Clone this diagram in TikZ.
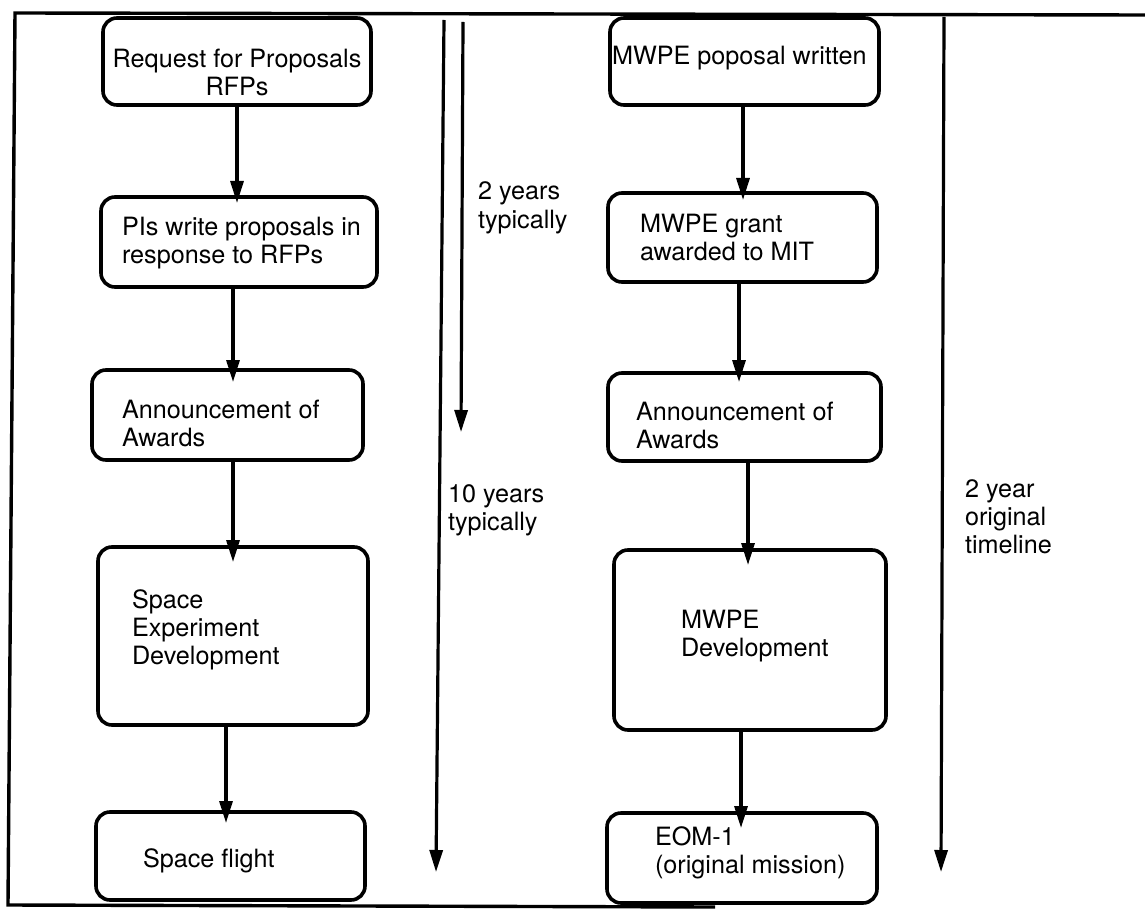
\documentclass[tikz,border=0pt]{standalone}
\usepackage{fontspec}
\setmainfont{TeX Gyre Heros}
\usetikzlibrary{arrows.meta}

% a rounded box given by its corners (x1,y1) and (x2,y2), y measured downwards
\newcommand\flowbox[5]{%
  \node[box, minimum width={(#4-#2)*0.5pt}, minimum height={(#5-#3)*0.5pt}]
    (#1) at ({(#2+#4)/2},{(#3+#5)/2}) {};}
% multi-line labels whose baseline is that of their first line
\newcommand\ltxt[1]{\begin{tabular}[t]{@{}l@{}}#1\end{tabular}}
\newcommand\ctxt[1]{\begin{tabular}[t]{@{}c@{}}#1\end{tabular}}

\begin{document}
\begin{tikzpicture}[x=0.5pt, y=-0.5pt,
  box/.style={draw, line width=1.8pt, rounded corners=7pt, inner sep=0pt, outer sep=0pt},
  lbl/.style={inner sep=0pt, outer sep=0pt, anchor=base west,
              font=\fontsize{12.6pt}{14pt}\selectfont},
  flow/.style={line width=1.6pt, -{Triangle[length=11pt,width=6.5pt]}},
  frame/.style={line width=1.7pt, line join=miter},
  ]
\useasboundingbox (0,0) rectangle (1145,909);

% outer frame (open on the right)
\draw[frame] (1145,15) -- (15,13) -- (8,905) -- (715,907);

% ---- left column: typical space experiment ----
\flowbox{b1}{103}{18}{371}{105}
\flowbox{b2}{101}{197}{377}{287}
\flowbox{b3}{92}{370}{363}{460}
\flowbox{b4}{98}{547}{368}{725}
\flowbox{b5}{96}{812}{365}{900}

\node[lbl, anchor=base] (tb1) at (237,68) {\ctxt{Request for Proposals\\RFPs}};
\node[lbl] (tb2) at (122,235) {\ltxt{PIs write proposals in\\response to RFPs}};
\node[lbl] (tb3) at (122,418) {\ltxt{Announcement of\\Awards}};
\node[lbl] (tb4) at (132,608) {\ltxt{Space\\Experiment\\Development}};
\node[lbl] (tb5) at (143,867) {Space flight};

\coordinate (xa1) at (237,0);
\coordinate (xa2) at (233,0);
\coordinate (xa3) at (233,0);
\coordinate (xa4) at (226,0);
\draw[flow, shorten >=-3pt]   (b1.south -| xa1) -- (b2.north -| xa1);
\draw[flow, shorten >=-6pt]   (b2.south -| xa2) -- (b3.north -| xa2);
\draw[flow, shorten >=-7.5pt] (b3.south -| xa3) -- (b4.north -| xa3);
\draw[flow, shorten >=-5.5pt] (b4.south -| xa4) -- (b5.north -| xa4);

% ---- left timelines ----
\coordinate (l1s) at (444,20);
\coordinate (l1e) at (436,872);
\coordinate (l2s) at (463,22);
\coordinate (l2e) at (461,432);
\draw[flow] (l1s) -- (l1e);
\draw[flow] (l2s) -- (l2e);
\node[lbl] (tl2) at (478,200) {\ltxt{2 years\\typically}};
\node[lbl] (tl1) at (448,502) {\ltxt{10 years\\typically}};

% ---- right column: MWPE ----
\flowbox{r1}{610}{18}{879}{105}
\flowbox{r2}{608}{193}{877}{282}
\flowbox{r3}{608}{373}{881}{461}
\flowbox{r4}{614}{550}{886}{730}
\flowbox{r5}{607}{813}{877}{903}

\node[lbl] (tr1) at (612,65) {MWPE poposal written};
\node[lbl] (tr2) at (640,233) {\ltxt{MWPE grant\\awarded to MIT}};
\node[lbl] (tr3) at (636,420) {\ltxt{Announcement of\\Awards}};
\node[lbl] (tr4) at (681,628) {\ltxt{MWPE\\Development}};
\node[lbl] (tr5) at (655,845) {\ltxt{EOM-1\\(original mission)}};

\coordinate (xr1) at (743,0);
\coordinate (xr2) at (739,0);
\coordinate (xr3) at (748,0);
\coordinate (xr4) at (741,0);
\draw[flow, shorten >=-3.5pt] (r1.south -| xr1) -- (r2.north -| xr1);
\draw[flow, shorten >=-4.5pt] (r2.south -| xr2) -- (r3.north -| xr2);
\draw[flow, shorten >=-7.5pt] (r3.south -| xr3) -- (r4.north -| xr3);
\draw[flow, shorten >=-7.5pt] (r4.south -| xr4) -- (r5.north -| xr4);

% ---- right timeline ----
\coordinate (rts) at (944,17);
\coordinate (rte) at (941,872);
\draw[flow] (rts) -- (rte);
\node[lbl] (trl) at (965,497) {\ltxt{2 year\\original\\timeline}};
\end{tikzpicture}
\end{document}
